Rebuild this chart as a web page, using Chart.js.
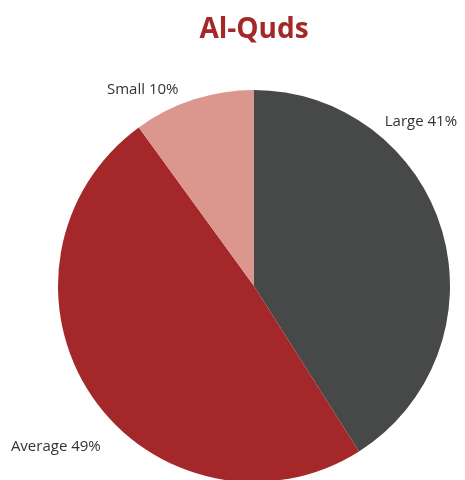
<!DOCTYPE html>
<html>
<head>
<meta charset="utf-8">
<script src="https://cdn.jsdelivr.net/npm/chart.js@4.4.1/dist/chart.umd.min.js"></script>
<style>
  html, body { margin: 0; padding: 0; background: #fff; overflow: hidden; }
  #wrap { width: 465px; height: 500px; }
</style>
</head>
<body>
<div id="wrap"><canvas id="pie" width="465" height="500"></canvas></div>
<script>
const sizes = ["Large", "Average", "Small"];
const shares = [41, 49, 10];
const sliceColors = ["#474948", "#a4282a", "#db968e"];

// where each label sits: angle (deg, clockwise from top) and gap outside the rim
const labelSpots = [
  { angle: 45.5, gap: 38 },
  { angle: 231, gap: 59 },
  { angle: 330.5, gap: 30 }
];

const outsideLabels = {
  id: "outsideLabels",
  afterDatasetsDraw(chart) {
    const ctx = chart.ctx;
    const arcs = chart.getDatasetMeta(0).data;
    ctx.save();
    ctx.font = "15px 'Open Sans', sans-serif";
    ctx.fillStyle = "#333333";
    ctx.textAlign = "center";
    ctx.textBaseline = "middle";
    arcs.forEach((arc, i) => {
      const spot = labelSpots[i];
      const a = (spot.angle - 90) * Math.PI / 180;
      const r = arc.outerRadius + spot.gap;
      const x = arc.x + Math.cos(a) * r;
      const y = arc.y + Math.sin(a) * r;
      ctx.fillText(sizes[i] + " " + shares[i] + "%", x, y);
    });
    ctx.restore();
  }
};

new Chart(document.getElementById("pie").getContext("2d"), {
  type: "pie",
  data: {
    labels: sizes,
    datasets: [{
      data: shares,
      backgroundColor: sliceColors,
      borderWidth: 0
    }]
  },
  options: {
    responsive: false,
    animation: false,
    layout: { padding: { top: 0, left: 58, right: 15, bottom: 18 } },
    plugins: {
      legend: { display: false },
      tooltip: { enabled: false },
      title: {
        display: true,
        text: "Al-Quds",
        color: "#a4282a",
        font: { family: "'Open Sans', sans-serif", size: 28, weight: "bold" },
        padding: { top: 13, bottom: 43.4 }
      }
    }
  },
  plugins: [outsideLabels]
});
</script>
</body>
</html>
